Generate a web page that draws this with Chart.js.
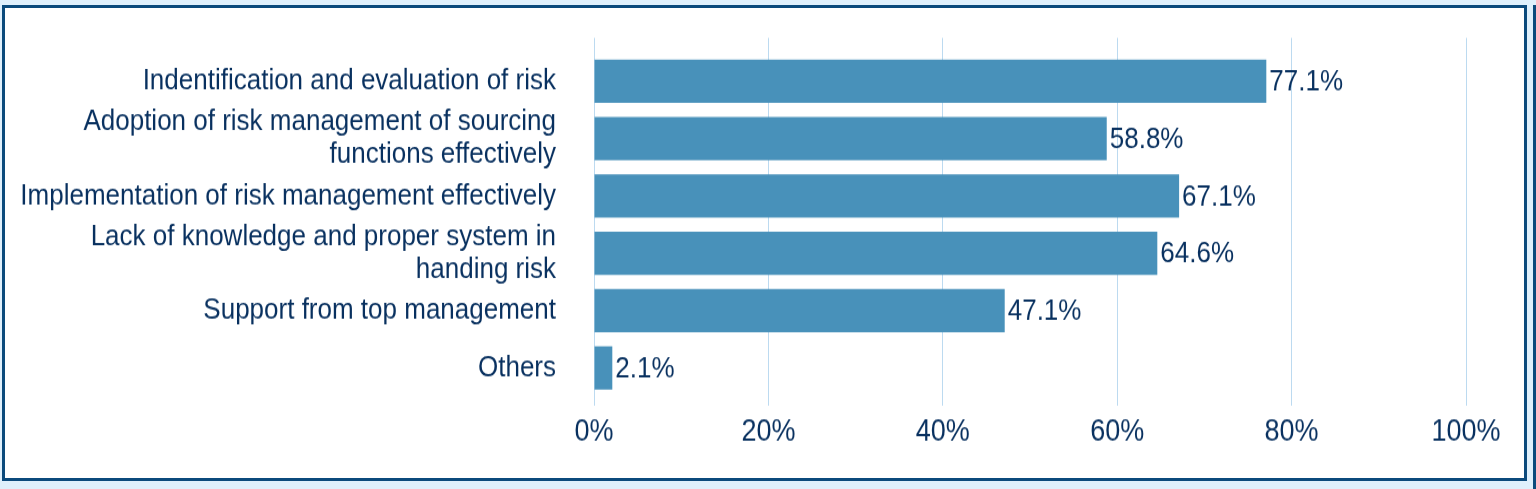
<!DOCTYPE html>
<html>
<head>
<meta charset="utf-8">
<script src="https://cdn.jsdelivr.net/npm/chart.js@4.4.1/dist/chart.umd.min.js"></script>
<style>
html, body { margin: 0; padding: 0; width: 1536px; height: 489px; overflow: hidden; background: #dff0fc; }
#frame { position: absolute; left: 2px; top: 5px; width: 1519px; height: 470px; border: 3px solid #0b4a7c; background: #fff; }
#edge { position: absolute; left: 1533px; top: 5px; width: 3px; height: 484px; background: #0b4a7c; }
#wrap { position: absolute; left: 0; top: 0; width: 1536px; height: 433px; transform: scaleY(1.13); transform-origin: 0 0; }
</style>
</head>
<body>
<div id="frame"></div>
<div id="edge"></div>
<div id="wrap"><canvas id="chart" width="1536" height="433"></canvas></div>
<script>
const categories = [
    'Indentification and evaluation of risk',
    ['Adoption of risk management of sourcing', 'functions effectively'],
    'Implementation of risk management effectively',
    ['Lack of knowledge and proper system in', 'handing risk'],
    'Support from top management',
    'Others'
];
const values = [77.1, 58.8, 67.1, 64.6, 47.1, 2.1];
const xTicks = [0, 20, 40, 60, 80, 100];

const textColor = '#08305f';
const gridColor = '#bcdaf0';
const fontFamily = 'Arial, "Liberation Sans", Helvetica, sans-serif';

// valeurs au bout des barres
const valueLabels = {
    id: 'valueLabels',
    afterDatasetsDraw(chart) {
        const ctx = chart.ctx;
        const meta = chart.getDatasetMeta(0);
        ctx.save();
        ctx.font = '26px ' + fontFamily;
        ctx.fillStyle = textColor;
        ctx.textAlign = 'left';
        ctx.textBaseline = 'middle';
        meta.data.forEach((bar, i) => {
            ctx.fillText(values[i].toFixed(1) + '%', bar.x + 3, bar.y + 1);
        });
        ctx.restore();
    }
};

new Chart(document.getElementById('chart'), {
    type: 'bar',
    data: {
        labels: categories,
        datasets: [{
            data: values,
            backgroundColor: '#4891ba',
            borderWidth: 0,
            barPercentage: 0.75,
            categoryPercentage: 1
        }]
    },
    options: {
        indexAxis: 'y',
        responsive: false,
        animation: false,
        devicePixelRatio: 1,
        layout: { padding: { left: 0, right: 70, top: 33.5, bottom: 0 } },
        plugins: { legend: { display: false }, tooltip: { enabled: false } },
        scales: {
            x: {
                min: 0, max: 100,
                afterBuildTicks: s => { s.ticks = xTicks.map(v => ({ value: v })); },
                afterFit: s => { s.height = 82; s.paddingLeft = 0; s.paddingRight = 0; },
                grid: { color: gridColor, lineWidth: 1, tickLength: 8 },
                border: { display: false },
                ticks: {
                    padding: 7,
                    color: textColor,
                    font: { size: 27, family: fontFamily },
                    callback: v => v + '%'
                }
            },
            x2: {
                axis: 'x',
                position: 'top',
                min: 0, max: 100,
                afterBuildTicks: s => { s.ticks = xTicks.map(v => ({ value: v })); },
                grid: { color: gridColor, lineWidth: 1, tickLength: 13, drawOnChartArea: false },
                border: { display: false },
                ticks: { display: false }
            },
            y: {
                afterFit: s => { s.width = 594; s.paddingTop = 0; s.paddingBottom = 0; },
                grid: { display: false, drawTicks: false },
                border: { display: false },
                ticks: {
                    autoSkip: false,
                    padding: 38,
                    color: textColor,
                    font: { size: 26, family: fontFamily, lineHeight: 1.1 }
                }
            }
        }
    },
    plugins: [valueLabels]
});
</script>
</body>
</html>
